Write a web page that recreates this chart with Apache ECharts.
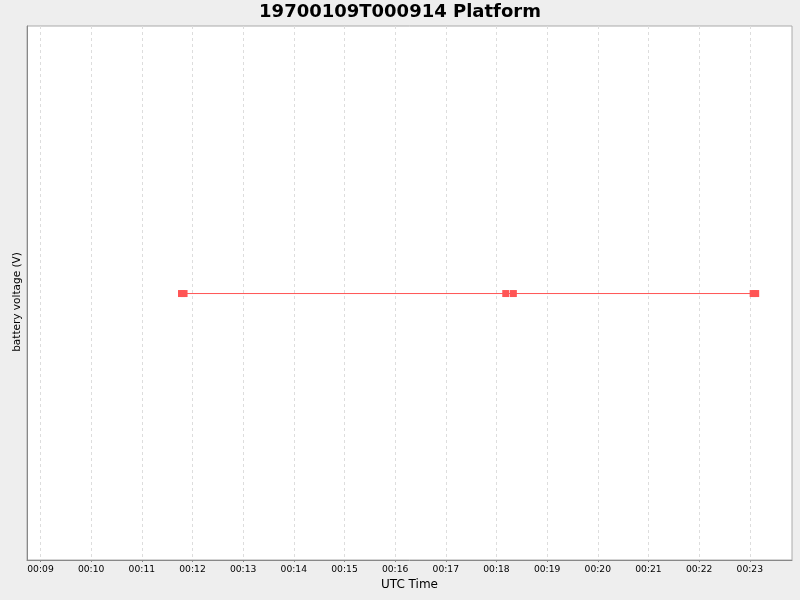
<!DOCTYPE html>
<html>
<head>
<meta charset="utf-8">
<script src="https://cdn.jsdelivr.net/npm/echarts@6/dist/echarts.min.js"></script>
<style>
html,body{margin:0;padding:0;background:#eeeeee;}
#chart{width:800px;height:600px;}
</style>
</head>
<body>
<div id="chart"></div>
<script>
// ---- data ----
var chartTitle = '19700109T000914 Platform';
var dayUTC = [1970, 0, 9];
var sampleTimes = ['00:11:47', '00:11:50', '00:18:11', '00:18:20', '00:23:04', '00:23:07'];
var batteryVoltage = [12.6, 12.6, 12.6, 12.6, 12.6, 12.6];
var tickLabels = ['00:09', '00:10', '00:11', '00:12', '00:13', '00:14', '00:15', '00:16',
                  '00:17', '00:18', '00:19', '00:20', '00:21', '00:22', '00:23'];
var axisStart = '00:08:44';
var axisEnd = '00:23:50';

function toMs(s) {
  var p = s.split(':').map(Number);
  return Date.UTC(dayUTC[0], dayUTC[1], dayUTC[2], p[0], p[1], p[2] || 0);
}
function pad(n) { return (n < 10 ? '0' : '') + n; }

var seriesData = sampleTimes.map(function (t, i) { return [toMs(t), batteryVoltage[i]]; });
var tickValues = tickLabels.map(function (t) { return toMs(t); });

var chart = echarts.init(document.getElementById('chart'), null, { renderer: 'canvas' });
chart.setOption({
  animation: false,
  backgroundColor: '#eeeeee',
  title: {
    text: chartTitle,
    left: 'center',
    top: 3,
    padding: 0,
    textStyle: { fontFamily: 'DejaVu Sans', fontWeight: 'bold', fontSize: 18, color: '#000' }
  },
  grid: {
    left: 27, right: 8, top: 26, bottom: 40,
    show: true, backgroundColor: '#ffffff', borderColor: '#aaaaaa', borderWidth: 1
  },
  xAxis: {
    type: 'value',
    min: toMs(axisStart),
    max: toMs(axisEnd),
    name: 'UTC Time',
    nameLocation: 'middle',
    nameGap: 19,
    nameTextStyle: { fontFamily: 'DejaVu Sans', fontSize: 12, color: '#000' },
    axisLine: { show: true, onZero: false, lineStyle: { color: '#888888', width: 1 } },
    axisTick: { show: true, length: 2, customValues: tickValues, lineStyle: { color: '#888888' } },
    axisLabel: {
      customValues: tickValues,
      margin: 5,
      fontFamily: 'DejaVu Sans', fontSize: 9.2, color: '#000',
      formatter: function (v) {
        var d = new Date(v);
        return pad(d.getUTCHours()) + ':' + pad(d.getUTCMinutes());
      }
    },
    splitLine: { show: true, lineStyle: { color: '#dddddd', type: [3, 3], width: 1 } }
  },
  yAxis: {
    type: 'value',
    min: 12.101,
    max: 13.101,
    name: 'battery voltage (V)',
    nameLocation: 'middle',
    nameGap: 4,
    nameRotate: 90,
    nameTextStyle: { fontFamily: 'DejaVu Sans', fontSize: 10.5, color: '#000', padding: [0, 18, 0, 0] },
    axisLine: { show: true, onZero: false, lineStyle: { color: '#888888', width: 1 } },
    axisTick: { show: false },
    axisLabel: { show: false },
    splitLine: { show: false }
  },
  series: [{
    type: 'line',
    data: seriesData,
    symbol: 'rect',
    symbolSize: 7,
    showAllSymbol: true,
    itemStyle: { color: '#ff5555', opacity: 1 },
    lineStyle: { color: '#ff5555', width: 1 },
    emphasis: { disabled: true }
  }]
});
</script>
</body>
</html>
